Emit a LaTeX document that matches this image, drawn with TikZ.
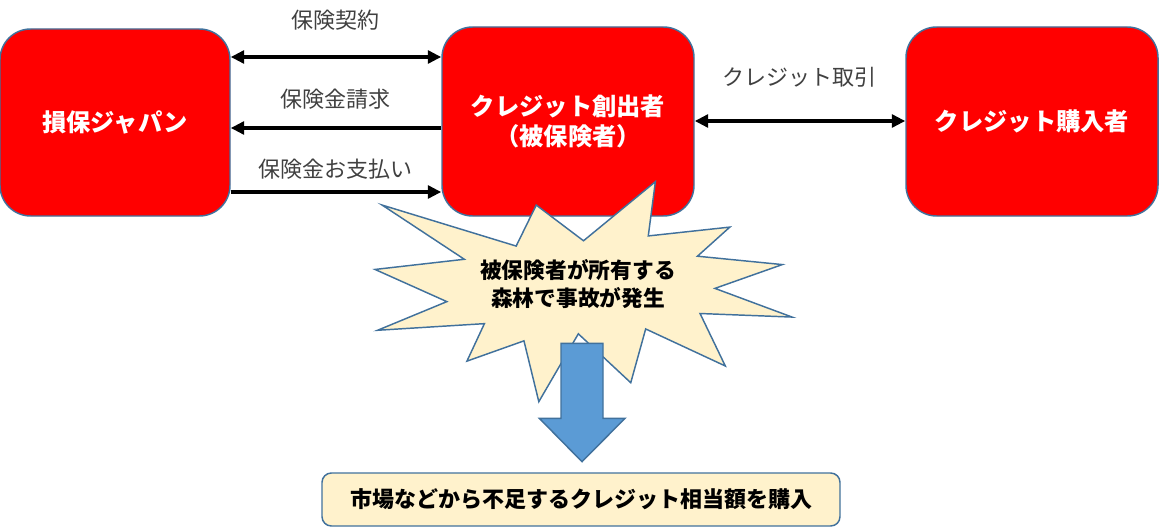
\documentclass[tikz,border=0pt]{standalone}
\usepackage{fontspec}
\setmainfont{Noto Sans CJK JP}
\usetikzlibrary{arrows.meta}
\definecolor{boxred}{HTML}{FF0000}
\definecolor{edgeblue}{HTML}{41719C}
\definecolor{cream}{HTML}{FFF2CC}
\definecolor{arrowblue}{HTML}{5B9BD5}
\definecolor{labelgray}{HTML}{404040}
\tikzset{
  partybox/.style={draw=edgeblue, line width=1.1pt, fill=boxred, rounded corners=23pt,
    text=white, font=\fontsize{18.2}{23}\selectfont\bfseries, align=center, inner sep=0pt},
  flowarrow/.style={line width=2.6pt, black},
  tipR/.style={-{Triangle[length=10pt,width=9.5pt]}},
  tipLR/.style={{Triangle[length=10pt,width=9.5pt]}-{Triangle[length=10pt,width=9.5pt]}},
  arrlabel/.style={font=\fontsize{16.5}{19}\selectfont, text=labelgray, inner sep=0pt},
  burst/.style={draw=edgeblue, line width=1.1pt, fill=cream, line join=miter},
  blockarrow/.style={draw=edgeblue, line width=1.1pt, fill=arrowblue},
  resultbox/.style={draw=edgeblue, line width=1.1pt, fill=cream, rounded corners=7pt,
    font=\fontsize{16.5}{19}\selectfont\bfseries, inner sep=0pt}
}
\begin{document}
\begin{tikzpicture}[x=0.75pt,y=-0.75pt]
\useasboundingbox (0,0) rectangle (1159,528);
% boxes
\node[partybox, minimum width=172.5pt, minimum height=140.25pt] (A) at (115,122.5) {損保ジャパン};
\node[partybox, minimum width=189pt, minimum height=141.75pt] (B) at (568,121.5) {クレジット創出者\\（被保険者）};
\node[partybox, minimum width=189pt, minimum height=141.75pt] (C) at (1032,121.5) {クレジット購入者};
% level coordinates
\coordinate (l1) at (0,57);
\coordinate (l2) at (0,128);
\coordinate (l3) at (0,192);
\coordinate (l4) at (0,121);
% arrows
\draw[flowarrow, tipLR] (A.east |- l1) -- (B.west |- l1);
\draw[flowarrow, tipR] (B.west |- l2) -- (A.east |- l2);
\draw[flowarrow, tipR] (A.east |- l3) -- (B.west |- l3);
\draw[flowarrow, tipLR] (B.east |- l4) -- (C.west |- l4);
% labels
\node[arrlabel] (t1) at (335,20) {保険契約};
\node[arrlabel] (t2) at (335,99) {保険金請求};
\node[arrlabel] (t3) at (335,169) {保険金お支払い};
\node[arrlabel] (t4) at (799,77) {クレジット取引};
% explosion
\begin{scope}[shift={(375,181.7)}, xscale=1.9306, yscale=1.0185]
\draw[burst] (108,58) -- (145.22,0) -- (141.55,53.25) -- (183.80,44.57) -- (167.02,73.15)
  -- (210.97,81.37) -- (176.07,104.75) -- (216,132.90) -- (168.37,129.42) -- (181.45,180.95)
  -- (140.20,144.57) -- (132.47,197.37) -- (105.32,149.35) -- (84.85,216) -- (77.15,156.27)
  -- (47.62,176.17) -- (56.67,139.37) -- (1.35,145.87) -- (37.22,117.75) -- (0,86.15)
  -- (46.27,76.17) -- (3.70,22.95) -- (73.12,63.20) -- (83.52,22.95) -- cycle;
\end{scope}
\node[font=\fontsize{16.3}{21}\selectfont\bfseries, align=center, inner sep=0pt] (E) at (578,284) {被保険者が所有する\\森林で事故が発生};
% block arrow
\draw[blockarrow] (561,343.3) coordinate (s1) -- (603,343.3) -- (603,418.3) -- (625,418.3)
  -- (582,461.7) coordinate (tip) -- (539.3,418.3) -- (561,418.3) -- cycle;
% result
\node[resultbox, minimum width=388.5pt, minimum height=39.75pt] (R) at (581,499.5) {市場などから不足するクレジット相当額を購入};
\end{tikzpicture}
\end{document}
